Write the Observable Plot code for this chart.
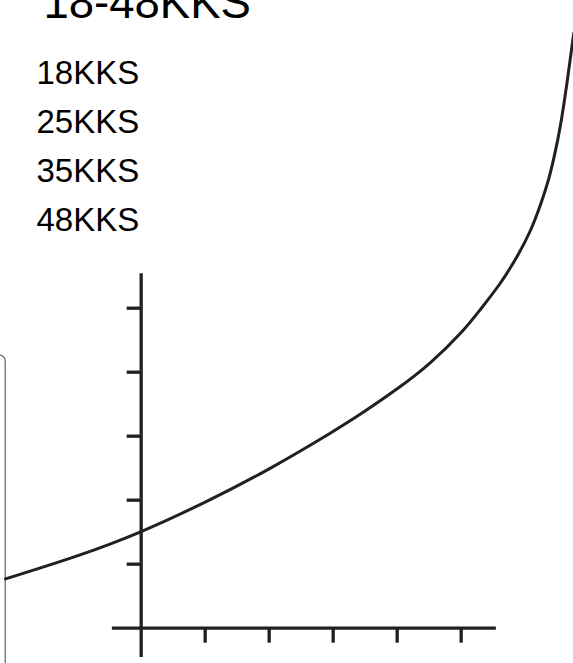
<!DOCTYPE html>
<html>
<head>
<meta charset="utf-8">
<script src="https://cdn.jsdelivr.net/npm/d3@7"></script>
<script src="https://cdn.jsdelivr.net/npm/@observablehq/plot@0.6"></script>
<style>
  html, body { margin: 0; padding: 0; background: white; }
</style>
</head>
<body>
<script>
// ---- data (units: one axis tick = 1) ----
const title = "18-48KKS";
const labels = ["18KKS", "25KKS", "35KKS", "48KKS"];
const curveX = [-2.12, -1.0, 0, 1.0, 2.0, 2.96, 3.48, 4.0, 4.52, 5.0, 5.3, 5.61, 5.88, 6.08, 6.24, 6.37, 6.46, 6.55, 6.66, 6.76];
const curveY = [0.77, 1.13, 1.51, 1.97, 2.49, 3.05, 3.38, 3.74, 4.15, 4.62, 4.98, 5.39, 5.82, 6.21, 6.62, 7.03, 7.40, 7.85, 8.57, 9.30];
const xTicks = [1, 2, 3, 4, 5];
const yTicks = [1, 2, 3, 4, 5];
const xAxisExtent = [-0.45, 5.55];
const yAxisExtent = [-0.46, 5.54];
const sideBox = [{x1: -3, x2: -2.116, y1: -1, y2: 4.26}];

const curve = curveX.map((x, i) => ({x, y: curveY[i]}));
const ink = "#231f20";
const pxPerUnit = 64;
const yTickLen = 14 / pxPerUnit;
const xTickLen = 15 / pxPerUnit;

const chart = Plot.plot({
  width: 573,
  height: 663,
  margin: 0,
  x: {domain: [-2.198, 6.755], axis: null},
  y: {domain: [-0.552, 9.808], axis: null},
  style: {overflow: "hidden", background: "white", fontFamily: "'Liberation Sans', Arial, sans-serif"},
  marks: [
    Plot.rect(sideBox, {x1: "x1", x2: "x2", y1: "y1", y2: "y2", rx: 6, fill: "none", stroke: "#6d6d6d", strokeWidth: 1.3}),
    Plot.ruleX([0], {y1: yAxisExtent[0], y2: yAxisExtent[1], stroke: ink, strokeWidth: 3.3}),
    Plot.ruleY([0], {x1: xAxisExtent[0], x2: xAxisExtent[1], stroke: ink, strokeWidth: 3.3}),
    Plot.ruleY(yTicks, {y: d => d, x1: -yTickLen, x2: 0, stroke: ink, strokeWidth: 3.3}),
    Plot.ruleX(xTicks, {x: d => d, y1: -xTickLen, y2: 0, stroke: ink, strokeWidth: 3.3}),
    Plot.line(curve, {x: "x", y: "y", curve: "natural", stroke: ink, strokeWidth: 3}),
    Plot.text([title], {text: d => d, frameAnchor: "top-left", dx: 43, dy: 17, textAnchor: "start", lineAnchor: "bottom", fontSize: 45.5, fill: "black"}),
    Plot.text([labels.join("\n")], {text: d => d, frameAnchor: "top-left", dx: 36, dy: 230, textAnchor: "start", lineAnchor: "bottom", fontSize: 33, lineHeight: 48.7 / 33, fill: "black"})
  ]
});
document.body.appendChild(chart);
</script>
</body>
</html>
